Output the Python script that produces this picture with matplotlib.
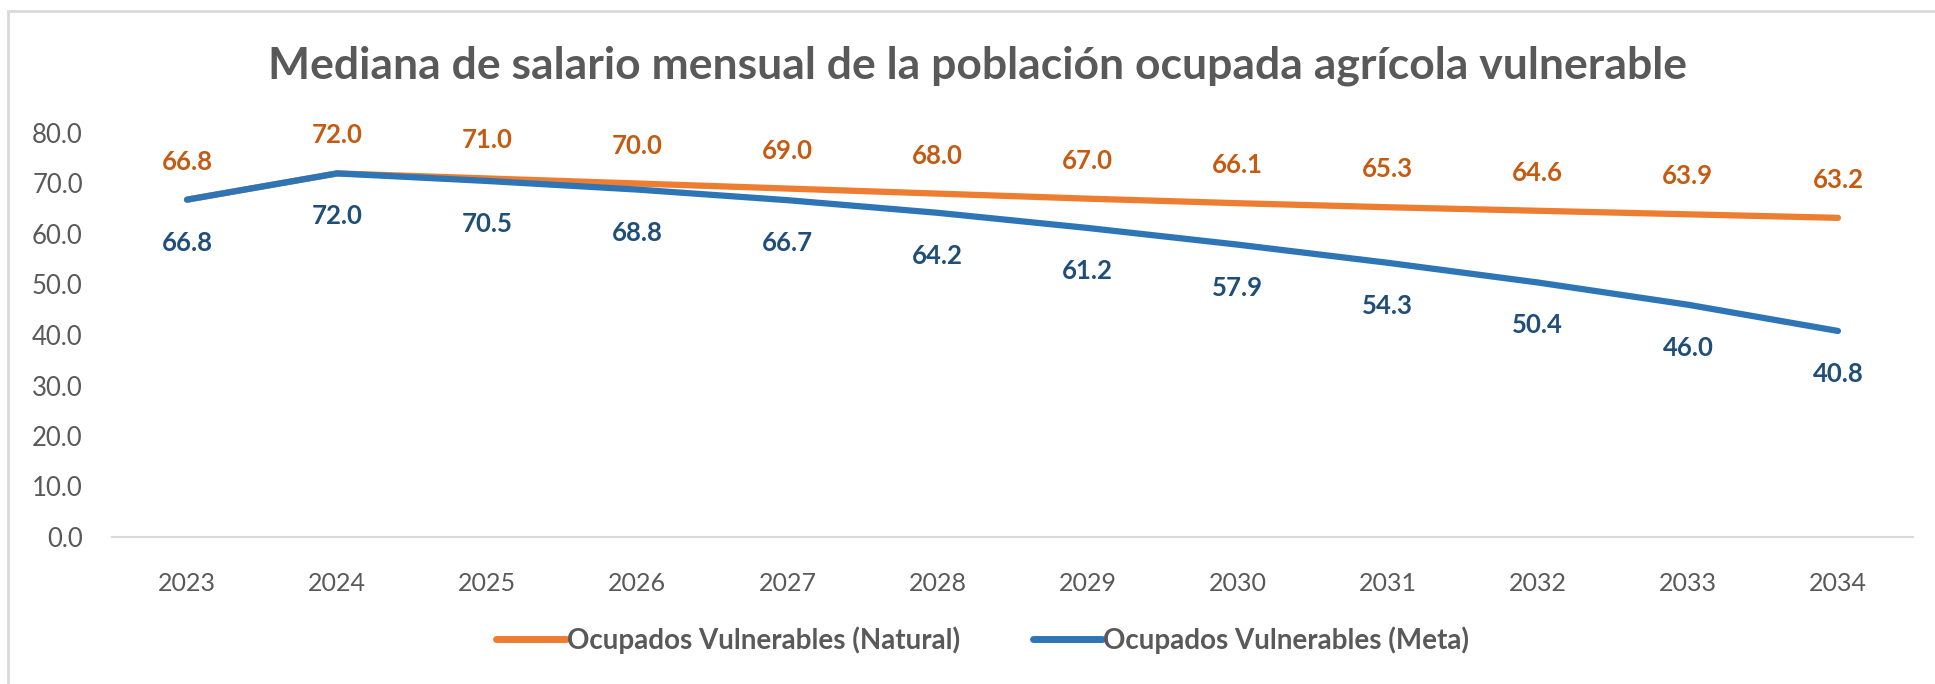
import matplotlib as mpl
mpl.use('Agg')
import matplotlib.pyplot as plt
from matplotlib.patches import Rectangle

# data
years = ['2023', '2024', '2025', '2026', '2027', '2028',
         '2029', '2030', '2031', '2032', '2033', '2034']
natural = [66.8, 72.0, 71.0, 70.0, 69.0, 68.0, 67.0, 66.1, 65.3, 64.6, 63.9, 63.2]
meta = [66.8, 72.0, 70.5, 68.8, 66.7, 64.2, 61.2, 57.9, 54.3, 50.4, 46.0, 40.8]
yticks = [0, 10, 20, 30, 40, 50, 60, 70, 80]

plt.rcParams['font.family'] = ['Lato', 'DejaVu Sans']

gray = '#595959'
orange = '#ED7D31'
blue = '#2E75B6'

fig = plt.figure(figsize=(19.35, 6.84), dpi=100)
# light chart border (left and top visible only)
fig.patches.append(Rectangle((8 / 1935, -0.1), 1.2, 1.1 - 11 / 684,
                             transform=fig.transFigure, fill=False,
                             edgecolor='#D9D9D9', linewidth=2))

ax = fig.add_axes([112 / 1935, 1 - 537 / 684, 1801 / 1935, 404 / 684])

x = list(range(len(years)))
ax.plot(x, natural, color=orange, linewidth=4.5, solid_capstyle='round',
        label='Ocupados Vulnerables (Natural)')
ax.plot(x, meta, color=blue, linewidth=4.5, solid_capstyle='round',
        label='Ocupados Vulnerables (Meta)')

# data labels: natural above, meta below
for xi, v in zip(x, natural):
    ax.annotate(f'{v:.1f}', (xi, v), xytext=(0, 38), textcoords='offset pixels',
                ha='center', va='center', fontsize=18.5, fontweight='bold',
                color='#C55A11', annotation_clip=False)
for xi, v in zip(x, meta):
    ax.annotate(f'{v:.1f}', (xi, v), xytext=(0, -43), textcoords='offset pixels',
                ha='center', va='center', fontsize=18.5, fontweight='bold',
                color='#1F4E79', annotation_clip=False)

ax.set_xlim(-0.5, len(years) - 0.5)
ax.set_ylim(0, 80)
ax.set_yticks(yticks)
ax.set_yticklabels([f'{t:.1f}' for t in yticks])
ax.set_xticks(x)
ax.set_xticklabels(years)
ax.tick_params(axis='both', length=0, labelcolor=gray)
ax.tick_params(axis='y', labelsize=18.5, pad=21)
ax.tick_params(axis='x', labelsize=18, pad=25)

for side in ['top', 'right', 'left']:
    ax.spines[side].set_visible(False)
ax.spines['bottom'].set_color('#D9D9D9')
ax.spines['bottom'].set_linewidth(1.5)

fig.text(0.505, 1 - 66 / 684, 'Mediana de salario mensual de la población ocupada agrícola vulnerable',
         ha='center', va='center', fontsize=32, fontweight='bold', color=gray)

leg = fig.legend(loc='center', bbox_to_anchor=(0.508, 1 - 640 / 684), ncol=2,
                 frameon=False, fontsize=20, handlelength=2.5, handletextpad=0.05,
                 columnspacing=2.6)
for line in leg.get_lines():
    line.set_linewidth(5)
for t in leg.get_texts():
    t.set_color(gray)
    t.set_fontweight('bold')

fig.savefig('out.png', dpi=100)
